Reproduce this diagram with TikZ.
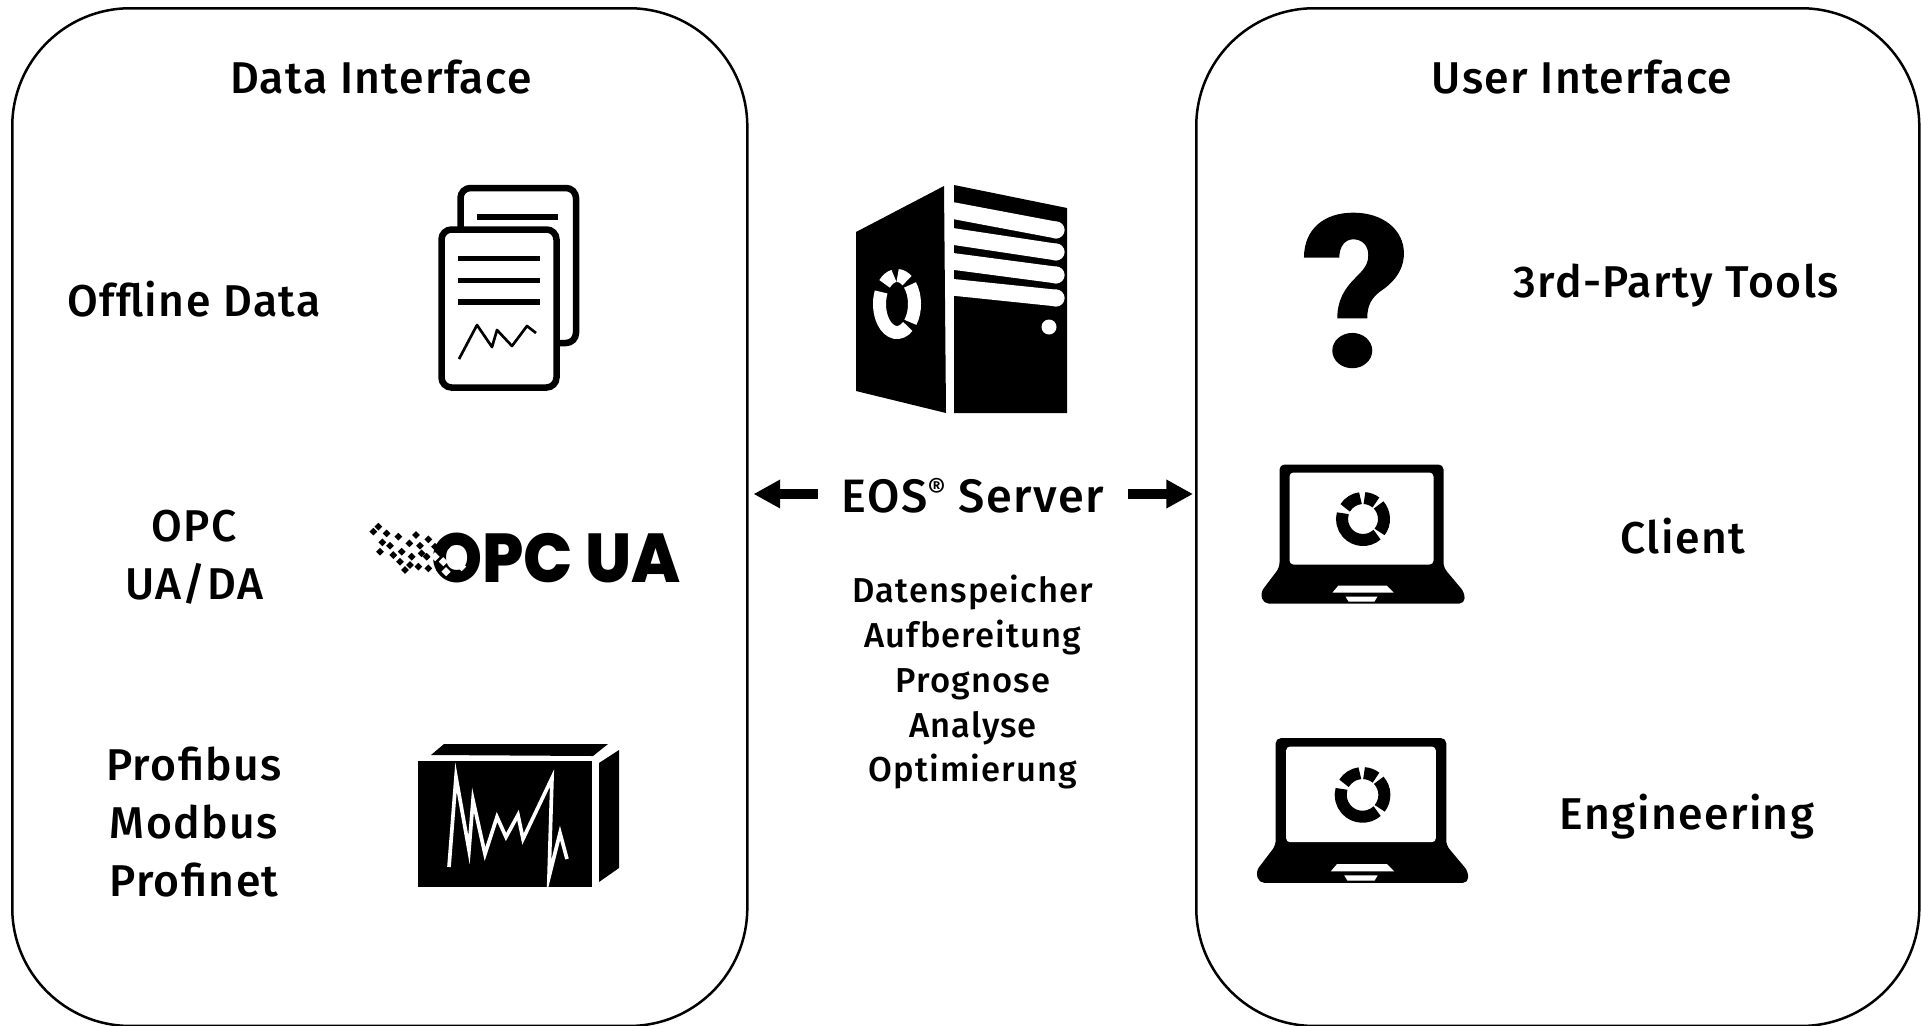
\documentclass[tikz,border=0pt]{standalone}
\usepackage{fontspec}
\setmainfont[LetterSpace=3.2]{Fira Sans Medium}
\newfontfamily\logofont{Poppins ExtraBold}
\usetikzlibrary{arrows.meta,shapes.geometric}
\tikzset{
  panelbox/.style={draw=black,line width=0.075cm,rounded corners=3.54cm,fill=white,minimum width=22.05cm,inner sep=0pt,anchor=north west},
  bigtext/.style={font=\fontsize{38}{49.3}\selectfont,align=center,inner sep=0pt},
  eostext/.style={font=\fontsize{40}{49}\selectfont,align=center,inner sep=0pt},
  smalltext/.style={font=\fontsize{29.5}{38.4}\selectfont,align=center,inner sep=0pt},
  fatarrow/.style={line width=0.3cm,-{Triangle[length=0.8cm,width=0.81cm]}},
  docline/.style={line width=0.195cm,rounded corners=0.3cm},
  speck/.style={fill=black,shape=diamond,inner sep=0pt,minimum size=0.24cm},
  wspeck/.style={fill=white,shape=diamond,inner sep=0pt,minimum size=0.28cm},
}
\newcommand{\donutseg}[8]{\draw[#6,line width=#5*0.03cm] ([shift={(-#7:#3 and #4)}]#1,#2) arc[start angle=-#7,end angle=-#8,x radius=#3,y radius=#4];}
\newcommand{\lapt}[3]{%
\begin{scope}[shift={(#1,#2)},x=#3*0.03cm,y=-#3*0.03cm]
 \fill[black,rounded corners=0.15cm] (-83,-70) -- (81,-70) -- (81,33) -- (102,58) -- (102,69) -- (-99,69) -- (-102,58) -- (-83,33) -- cycle;
 \fill[white,rounded corners=0.12cm] (-73,-62) rectangle (71,30);
 \fill[white] (-30,58) -- (-24,51) -- (24,51) -- (31,58) -- cycle;
 \fill[white] (-17,62) -- (15,62) -- (12,67) -- (-14,67) -- cycle;
 \donutseg{0.5}{-15.5}{21}{21}{12}{black}{97}{148}
 \donutseg{0.5}{-15.5}{21}{21}{12}{black}{86}{52}
 \donutseg{0.5}{-15.5}{21}{21}{12}{black}{42}{-38}
 \donutseg{0.5}{-15.5}{21}{21}{12}{black}{-48}{-196}
\end{scope}}
\begin{document}
\begin{tikzpicture}[x=0.03cm,y=-0.03cm]
\useasboundingbox (0,0) rectangle (1921,1025);
\clip (0,0) rectangle (1921,1025);
\fill[white] (0,0) rectangle (1921,1025);
% panels
\node[panelbox,minimum height=30.53cm] (datapanel) at (11,7) {};
\node[panelbox,minimum height=30.53cm,minimum width=21.69cm] (userpanel) at (1195,7) {};
% titles and labels
\node[bigtext] (datatitle) at (381,77) {Data Interface};
\node[bigtext] (usertitle) at (1582,77) {User Interface};
\node[bigtext] (offline) at (194,299) {Offline Data};
\node[bigtext] (opc) at (194,557) {OPC\\UA/DA};
\node[bigtext] (bus) at (194,822) {Profibus\\Modbus\\Profinet};
\node[bigtext] (thirdparty) at (1676,286) {3rd-Party Tools};
\node[bigtext] (client) at (1683,536) {Client};
\node[bigtext] (engineering) at (1687,817) {Engineering};
\node[eostext] (eos) at (973,496) {EOS\raisebox{11pt}{\fontsize{24}{24}\selectfont ®} Server};
\node[smalltext] (functions) at (973,682) {Datenspeicher\\Aufbereitung\\Prognose\\Analyse\\Optimierung};
% connectors
\coordinate (eosL) at ([yshift=0.06cm]eos.west);
\coordinate (eosR) at ([yshift=0.06cm]eos.east);
\draw[fatarrow,shorten <=0.72cm,shorten >=0.15cm] (eosL) -- (eosL -| datapanel.east);
\draw[fatarrow,shorten <=0.72cm,shorten >=0.06cm] (eosR) -- (eosR -| userpanel.west);
% documents icon
\draw[docline] (460.5,230) -- (460.5,188) -- (576,188) -- (576,343) -- (556,343);
\draw[line width=0.18cm] (477,217) -- (558,217);
\draw[docline,fill=white] (441.5,229.5) rectangle (556.5,387.5);
\draw[line width=0.15cm] (458,258) -- (540,258);
\draw[line width=0.15cm] (458,280) -- (540,280);
\draw[line width=0.18cm] (458,302) -- (540,302);
\draw[line width=0.08cm,line join=round] (459,359) -- (477,325) -- (492,347) -- (497,330) -- (512,346) -- (527,326) -- (536,333);
% OPC UA logo
\node[inner sep=0pt,anchor=base west] (opclogo) at (431,582) {\logofont\fontsize{59}{59}\selectfont\scalebox{0.94}[1]{OPC UA}};
\foreach \a/\b in {115/110,100/125,140/130,175/140,228/135,265/148,127/157,150/167,208/160,240/167,120/185,160/195,185/185,215/200,245/190,180/215,210/225,235/230,260/200,195/240,265/235,300/240,285/170,320/170}
  \node[speck] at (340+\a/3,490+\b/3) {};
\foreach \a/\b in {285/200,318/245,335/190,365/230,310/215}
  \node[wspeck] at (340+\a/3,490+\b/3) {};
% monitor box icon
\fill (418,761) rectangle (592,887);
\fill (431,755) -- (444,744) -- (608,744) -- (593,756) -- cycle;
\fill (599,763) -- (619,750) -- (619,868) -- (599,882) -- cycle;
\draw[white,line width=0.11cm,miter limit=10] (449,867) -- (456,777) -- (469,850) -- (473,800) -- (485,854) -- (497,817) -- (506,837) -- (518,815) -- (523,839) -- (552,778) -- (549,877) -- (560,833) -- (567,859);
% server icon
\fill (856,232) -- (944,186) -- (946,413) -- (856,391) -- cycle;
\fill (954,185) -- (1067,208) -- (1067,413) -- (954,413) -- cycle;
\foreach \yb in {230,252,275,298}
  \fill[white] (1056,\yb) circle (8.6);
\foreach \ya/\yb in {210/230,236/252,261/275,287/298}
  \draw[white,line width=0.5cm] (950,\ya) -- (1056,\yb);
\fill[white] (1049,327) circle (7.5);
\donutseg{897}{304}{17.5}{28.5}{13}{white}{100}{135}
\donutseg{897}{304}{17.5}{28.5}{13}{white}{88}{55}
\donutseg{897}{304}{17.5}{28.5}{13}{white}{42}{-40}
\donutseg{897}{304}{17.5}{28.5}{13}{white}{-52}{-205}
% question mark
\begin{scope}[shift={(1240,190)},x=0.01cm,y=-0.01cm]
\fill (192,203) .. controls (192,115) and (255,68) .. (340,68) .. controls (430,68) and (492,120) .. (492,190) .. controls (492,250) and (450,285) .. (420,305) .. controls (395,325) and (382,345) .. (382,385) -- (292,385) .. controls (292,330) and (315,295) .. (345,265) .. controls (370,240) and (385,225) .. (385,195) .. controls (385,165) and (365,148) .. (340,148) .. controls (315,148) and (298,170) .. (298,203) -- cycle;
\fill (337,482) ellipse [x radius=60,y radius=53];
\end{scope}
% laptops
\lapt{1362.5}{534.5}{1}
\lapt{1362}{811}{1.04}
\end{tikzpicture}
\end{document}
